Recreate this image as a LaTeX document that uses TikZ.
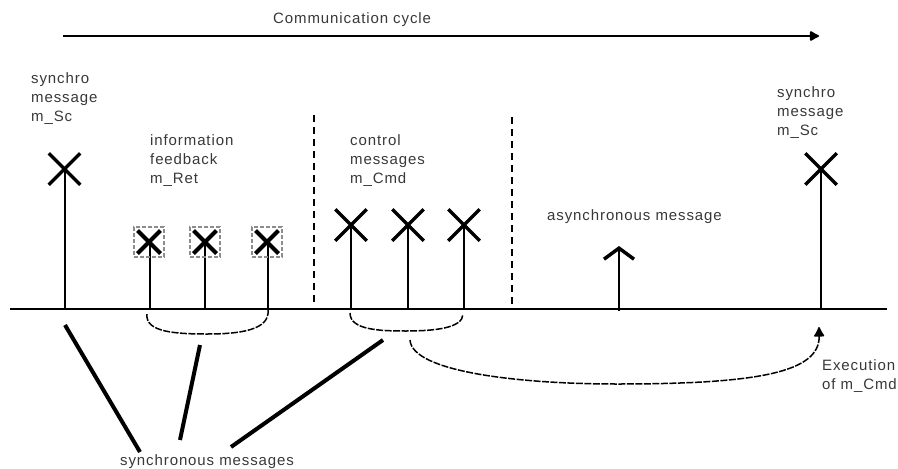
\documentclass[tikz,border=0pt]{standalone}
\usepackage{fontspec}
\setmainfont[LetterSpace=6]{Liberation Sans}
\usetikzlibrary{arrows.meta,shapes.misc}
\begin{document}
\begin{tikzpicture}[x=1pt,y=-1pt,
  lbl/.style={inner sep=0pt,anchor=north west,align=left,text=black!78,
    font=\fontsize{15}{19}\selectfont},
  xmark/.style={cross out,draw,line width=3.5pt,minimum size=28pt,inner sep=0pt},
  cbox/.style={draw=black!45,dashed,dash pattern=on 4pt off 2pt,line width=1.2pt,
    minimum size=30pt,inner sep=0pt,
    path picture={\draw[solid,black,line width=4pt]
      ([shift={(3.5pt,-3.5pt)}]path picture bounding box.north west) --
      ([shift={(-3.5pt,3.5pt)}]path picture bounding box.south east)
      ([shift={(-3.5pt,-3.5pt)}]path picture bounding box.north east) --
      ([shift={(3.5pt,3.5pt)}]path picture bounding box.south west);}},
  stem/.style={line width=2pt},
  sep/.style={line width=2pt,dash pattern=on 7pt off 5pt},
  brace/.style={line width=1.5pt,dash pattern=on 7pt off 1.5pt},
  thick line/.style={line width=4pt},
  blob/.style={-{Latex[length=11pt,width=12pt,round]}},
]
\useasboundingbox (0,0) rectangle (898,469);

% top cycle arrow
\node[lbl] (cyc) at (273,12) {Communication cycle};
\coordinate (c0) at (63,36);
\coordinate (c1) at (819,36);
\draw[line width=2pt,blob] (c0) -- (c1);

% baseline
\coordinate (bl0) at (10,309);
\coordinate (bl1) at (887,309);
\draw[line width=2pt] (bl0) -- (bl1);

% labels
\node[lbl] (syncL) at (31,72) {synchro\\message\\m\_Sc};
\node[lbl] (syncR) at (777,86) {synchro\\message\\m\_Sc};
\node[lbl] (info) at (150,134) {information\\feedback\\m\_Ret};
\node[lbl] (ctrl) at (350,134) {control\\messages\\m\_Cmd};
\node[lbl] (async) at (547,209) {asynchronous message};
\node[lbl] (exec) at (822,359) {Execution\\of m\_Cmd};
\node[lbl] (syncmsg) at (120,454) {synchronous messages};

% separators
\coordinate (d1a) at (314,115); \coordinate (d1b) at (314,302);
\coordinate (d2a) at (512,117); \coordinate (d2b) at (512,306);
\draw[sep] (d1a) -- (d1b);
\draw[sep] (d2a) -- (d2b);

% synchro marks
\node[xmark] (sL) at (64.5,169) {};
\node[xmark] (sR) at (821,169) {};
\coordinate (bsL) at (64.5,309);
\coordinate (bsR) at (821,309);
\draw[stem] (sL.center) -- (bsL);
\draw[stem] (sR.center) -- (bsR);

% information feedback marks
\coordinate (bf1) at (150,309);
\coordinate (bf2) at (205,309);
\coordinate (bf3) at (268,309);
\draw[stem] (150,243) -- (bf1);
\draw[stem] (205,243) -- (bf2);
\draw[stem] (268,243) -- (bf3);
\node[cbox] (f1) at (149,242) {};
\node[cbox] (f2) at (205,242) {};
\node[cbox] (f3) at (267,242) {};

% control marks
\node[xmark] (k1) at (351,225) {};
\node[xmark] (k2) at (408,225) {};
\node[xmark] (k3) at (464,225) {};
\coordinate (bk1) at (351,309);
\coordinate (bk2) at (408,309);
\coordinate (bk3) at (464,309);
\draw[stem] (k1.center) -- (bk1);
\draw[stem] (k2.center) -- (bk2);
\draw[stem] (k3.center) -- (bk3);

% asynchronous message
\coordinate (ba) at (619,311);
\coordinate (ta) at (619,246);
\draw[stem,-{Straight Barb[length=11pt,width=30pt,line width=3.5pt]}] (ba) -- (ta);

% braces below baseline
\coordinate (br1a) at (147,314);
\coordinate (br1b) at (268,310);
\draw[brace] (br1a) .. controls (145,332) and (175,334) .. (207,334)
  .. controls (240,334) and (270,330) .. (br1b);
\coordinate (br2a) at (350,313);
\coordinate (br2b) at (463,314);
\draw[brace] (br2a) .. controls (350,330) and (380,331) .. (406,331)
  .. controls (435,331) and (463,328) .. (br2b);

% execution arrow
\coordinate (ex0) at (410,340);
\coordinate (ex1) at (819,327);
\draw[brace,blob] (ex0) .. controls (412,372) and (520,384) .. (617,384)
  .. controls (760,384) and (820,372) .. (ex1);

% synchronous message pointers
\coordinate (p1) at (65,325);  \coordinate (q1) at (140,452);
\coordinate (p2) at (200,345); \coordinate (q2) at (180,440);
\coordinate (p3) at (383,340); \coordinate (q3) at (231,447);
\draw[thick line] (p1) -- (q1);
\draw[thick line] (p2) -- (q2);
\draw[thick line] (p3) -- (q3);
\end{tikzpicture}
\end{document}
